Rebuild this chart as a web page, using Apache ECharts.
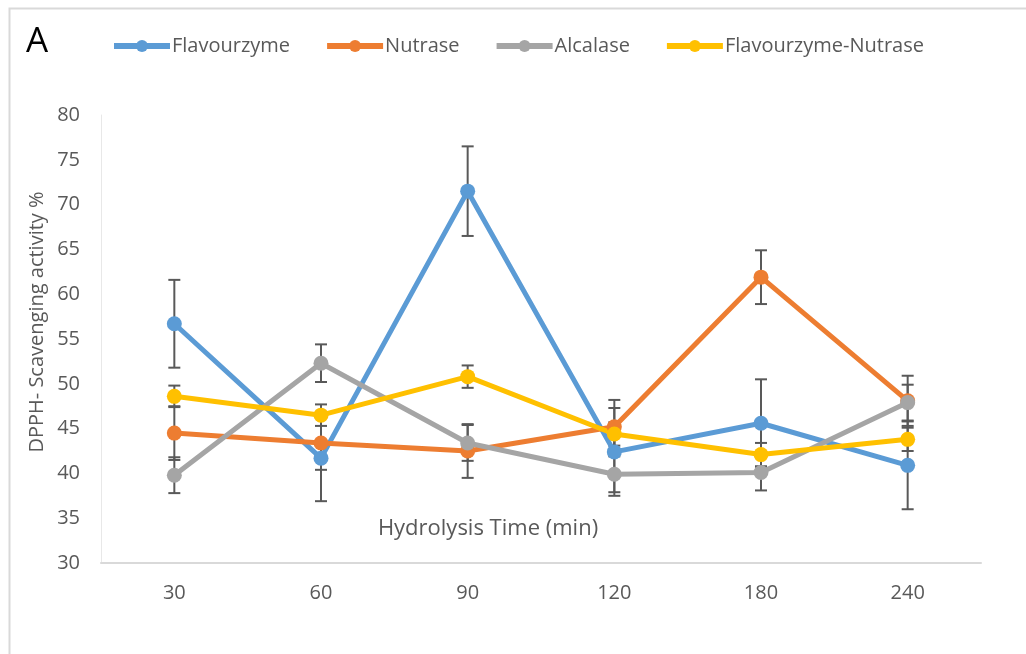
<!DOCTYPE html>
<html>
<head>
<meta charset="utf-8">
<script src="https://cdn.jsdelivr.net/npm/echarts@6/dist/echarts.min.js"></script>
<style>
  html, body { margin: 0; padding: 0; background: #fff; }
  #chart { width: 1026px; height: 654px; }
</style>
</head>
<body>
<div id="chart"></div>
<script>
var times = ['30', '60', '90', '120', '180', '240'];
var yTicks = [30, 35, 40, 45, 50, 55, 60, 65, 70, 75, 80];

var flavourzyme = [56.7, 41.7, 71.5, 42.4, 45.6, 40.9];
var flavourzymeErr = [4.9, 4.8, 5.0, 4.9, 4.9, 4.9];
var nutrase = [44.5, 43.4, 42.5, 45.2, 61.9, 48.1];
var nutraseErr = [3.0, 3.0, 3.0, 3.0, 3.0, 2.8];
var alcalase = [39.8, 52.3, 43.4, 39.9, 40.1, 47.9];
var alcalaseErr = [2.0, 2.1, 2.0, 2.0, 2.0, 2.0];
var mixed = [48.6, 46.5, 50.8, 44.4, 42.1, 43.8];
var mixedErr = [1.2, 1.2, 1.25, 1.3, 1.3, 1.3];

var names = ['Flavourzyme', 'Nutrase', 'Alcalase', 'Flavourzyme-Nutrase'];
var colors = ['#5B9BD5', '#ED7D31', '#A5A5A5', '#FFC000'];
var means = [flavourzyme, nutrase, alcalase, mixed];
var errs = [flavourzymeErr, nutraseErr, alcalaseErr, mixedErr];

var FONT = '"Open Sans", sans-serif';

function errorSeries(mean, err, i) {
  var data = mean.map(function (v, k) { return [k, v - err[k], v + err[k]]; });
  return {
    name: 'err' + i,
    type: 'custom',
    z: 1,
    silent: true,
    encode: { x: 0, y: [1, 2] },
    data: data,
    renderItem: function (params, api) {
      var lo = api.coord([api.value(0), api.value(1)]);
      var hi = api.coord([api.value(0), api.value(2)]);
      var w = 6;
      var style = { stroke: '#595959', lineWidth: 2 };
      return {
        type: 'group',
        children: [
          { type: 'line', shape: { x1: lo[0], y1: lo[1], x2: hi[0], y2: hi[1] }, style: style },
          { type: 'line', shape: { x1: lo[0] - w, y1: lo[1], x2: lo[0] + w, y2: lo[1] }, style: style },
          { type: 'line', shape: { x1: hi[0] - w, y1: hi[1], x2: hi[0] + w, y2: hi[1] }, style: style }
        ]
      };
    }
  };
}

var series = [];
means.forEach(function (m, i) {
  series.push(errorSeries(m, errs[i], i));
});
means.forEach(function (m, i) {
  series.push({
    name: names[i],
    type: 'line',
    z: 3,
    data: m,
    symbol: 'circle',
    symbolSize: 15,
    lineStyle: { width: 5, color: colors[i] },
    itemStyle: { color: colors[i] }
  });
});

var chart = echarts.init(document.getElementById('chart'));
chart.setOption({
  animation: false,
  color: colors,
  textStyle: { fontFamily: FONT },
  grid: { left: 101, right: 45, top: 115, bottom: 91 },
  legend: {
    data: names,
    left: 106,
    top: 31,
    itemWidth: 56,
    itemHeight: 15,
    itemGap: 34,
    lineStyle: { width: 6 },
    textStyle: { fontFamily: FONT, fontSize: 20, color: '#595959', padding: [0, 0, 0, -3] }
  },
  xAxis: {
    type: 'category',
    data: times,
    boundaryGap: true,
    axisTick: { show: false },
    axisLine: { lineStyle: { color: '#d9d9d9', width: 2 } },
    axisLabel: { margin: 20, fontSize: 20, color: '#595959', fontFamily: FONT },
    splitLine: { show: false }
  },
  yAxis: {
    type: 'value',
    min: yTicks[0],
    max: yTicks[yTicks.length - 1],
    interval: 5,
    axisLine: { show: true, lineStyle: { color: '#e8e8e8', width: 1 } },
    axisTick: { show: false },
    splitLine: { show: false },
    axisLabel: { margin: 21, fontSize: 20, color: '#595959', fontFamily: FONT }
  },
  graphic: [
    {
      type: 'rect',
      left: 7, top: 6,
      shape: { width: 1040, height: 670 },
      style: { fill: null, stroke: '#d9d9d9', lineWidth: 2 },
      silent: true
    },
    {
      type: 'text',
      left: 26, top: 25,
      style: { text: 'A', font: '35px ' + FONT, fill: '#000' }
    },
    {
      type: 'text',
      x: 37, y: 322,
      rotation: Math.PI / 2,
      style: {
        text: 'DPPH- Scavenging activity %',
        font: '20px ' + FONT,
        fill: '#595959',
        align: 'center',
        verticalAlign: 'middle'
      }
    },
    {
      type: 'text',
      x: 488, y: 529,
      style: {
        text: 'Hydrolysis Time (min)',
        font: '22px ' + FONT,
        fill: '#595959',
        align: 'center',
        verticalAlign: 'middle'
      }
    }
  ],
  series: series
});
</script>
</body>
</html>
